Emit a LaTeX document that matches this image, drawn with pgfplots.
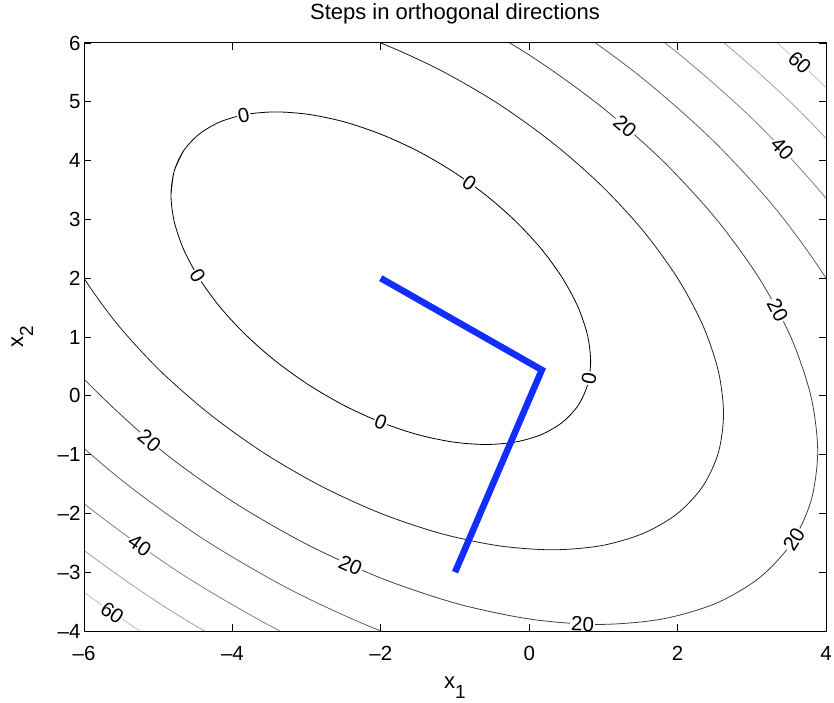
\documentclass[border=0pt]{standalone}
\usepackage{pgfplots}
\pgfplotsset{compat=1.18}
\usepackage{fontspec}
\setmainfont{Liberation Sans}
\definecolor{pathblue}{RGB}{18,46,255}
\newcommand{\lbl}{\fontsize{20.5}{24}\selectfont}
\begin{document}
\begin{tikzpicture}
\begin{axis}[
  scale only axis, width=742pt, height=588pt,
  xmin=-6, xmax=4, ymin=-4, ymax=6,
  xtick={-6,-4,-2,0,2,4}, xticklabels={–6,–4,–2,0,2,4},
  ytick={-4,-3,-2,-1,0,1,2,3,4,5,6}, yticklabels={–4,–3,–2,–1,0,1,2,3,4,5,6},
  tick align=inside, major tick length=7pt,
  tick style={black, line width=0.8pt},
  axis line style={black, line width=1pt},
  tick label style={font=\fontsize{20.5}{24}\selectfont},
  xticklabel style={anchor=base, yshift=-29pt},
  title={Steps in orthogonal directions},
  title style={font=\fontsize{22}{26}\selectfont, at={(rel axis cs:0.5,1.0306)}, anchor=base},
  xlabel={x\raisebox{-10pt}{\fontsize{19}{22}\selectfont 1}},
  ylabel={x\raisebox{-10pt}{\fontsize{19}{22}\selectfont 2}},
  xlabel style={font=\fontsize{22}{26}\selectfont, at={(rel axis cs:0.5,-0.0986)}, anchor=base},
  ylabel style={font=\fontsize{22}{26}\selectfont, at={(rel axis cs:-0.0822,0.5)}, anchor=base},
  axis on top,
]
% level 60
\addplot[smooth, draw=black!25, line width=0.8pt] coordinates {
(-11.381,6.690) (-11.238,8.030) (-10.815,9.186) (-10.124,10.124) (-9.186,10.815) (-8.030,11.238) (-6.690,11.381) (-5.208,11.238) (-3.629,10.815) (-2,10.124) (-0.371,9.186) (1.208,8.030) (2.690,6.690) (4.030,5.208) (5.186,3.629) (6.124,2) (6.815,0.371) (7.238,-1.208) (7.381,-2.690) (7.238,-4.030) (6.815,-5.186) (6.124,-6.124) (5.186,-6.815) (4.030,-7.238) (2.690,-7.381) (1.208,-7.238) (-0.371,-6.815) (-2,-6.124) (-3.629,-5.186) (-5.208,-4.030) (-6.690,-2.690) (-8.030,-1.208) (-9.186,0.371) (-10.124,2) (-10.815,3.629) (-11.238,5.208) (-11.381,6.690)};
% level 50
\addplot[smooth, draw=black!37.5, line width=0.8pt] coordinates {
(-10.641,6.320) (-10.510,7.554) (-10.120,8.619) (-9.483,9.483) (-8.619,10.120) (-7.554,10.510) (-6.320,10.641) (-4.955,10.510) (-3.500,10.120) (-2,9.483) (-0.500,8.619) (0.955,7.554) (2.320,6.320) (3.554,4.955) (4.619,3.500) (5.483,2) (6.120,0.500) (6.510,-0.955) (6.641,-2.320) (6.510,-3.554) (6.120,-4.619) (5.483,-5.483) (4.619,-6.120) (3.554,-6.510) (2.320,-6.641) (0.955,-6.510) (-0.500,-6.120) (-2,-5.483) (-3.500,-4.619) (-4.955,-3.554) (-6.320,-2.320) (-7.554,-0.955) (-8.619,0.500) (-9.483,2) (-10.120,3.500) (-10.510,4.955) (-10.641,6.320)};
% level 40
\addplot[smooth, draw=black!50, line width=0.8pt] coordinates {
(-9.832,5.916) (-9.713,7.034) (-9.359,7.999) (-8.782,8.782) (-7.999,9.359) (-7.034,9.713) (-5.916,9.832) (-4.679,9.713) (-3.360,9.359) (-2,8.782) (-0.640,7.999) (0.679,7.034) (1.916,5.916) (3.034,4.679) (3.999,3.360) (4.782,2) (5.359,0.640) (5.713,-0.679) (5.832,-1.916) (5.713,-3.034) (5.359,-3.999) (4.782,-4.782) (3.999,-5.359) (3.034,-5.713) (1.916,-5.832) (0.679,-5.713) (-0.640,-5.359) (-2,-4.782) (-3.360,-3.999) (-4.679,-3.034) (-5.916,-1.916) (-7.034,-0.679) (-7.999,0.640) (-8.782,2) (-9.359,3.360) (-9.713,4.679) (-9.832,5.916)};
% level 30
\addplot[smooth, draw=black!62.5, line width=0.8pt] coordinates {
(-8.928,5.464) (-8.823,6.453) (-8.510,7.307) (-8,8) (-7.307,8.510) (-6.453,8.823) (-5.464,8.928) (-4.370,8.823) (-3.203,8.510) (-2,8) (-0.797,7.307) (0.370,6.453) (1.464,5.464) (2.453,4.370) (3.307,3.203) (4,2) (4.510,0.797) (4.823,-0.370) (4.928,-1.464) (4.823,-2.453) (4.510,-3.307) (4,-4) (3.307,-4.510) (2.453,-4.823) (1.464,-4.928) (0.370,-4.823) (-0.797,-4.510) (-2,-4) (-3.203,-3.307) (-4.370,-2.453) (-5.464,-1.464) (-6.453,-0.370) (-7.307,0.797) (-8,2) (-8.510,3.203) (-8.823,4.370) (-8.928,5.464)};
% level 20
\addplot[smooth, draw=black!75, line width=0.8pt] coordinates {
(-7.888,4.944) (-7.798,5.785) (-7.533,6.510) (-7.099,7.099) (-6.510,7.533) (-5.785,7.798) (-4.944,7.888) (-4.014,7.798) (-3.022,7.533) (-2,7.099) (-0.978,6.510) (0.014,5.785) (0.944,4.944) (1.785,4.014) (2.510,3.022) (3.099,2) (3.533,0.978) (3.798,-0.014) (3.888,-0.944) (3.798,-1.785) (3.533,-2.510) (3.099,-3.099) (2.510,-3.533) (1.785,-3.798) (0.944,-3.888) (0.014,-3.798) (-0.978,-3.533) (-2,-3.099) (-3.022,-2.510) (-4.014,-1.785) (-4.944,-0.944) (-5.785,0.014) (-6.510,0.978) (-7.099,2) (-7.533,3.022) (-7.798,4.014) (-7.888,4.944)};
% level 10
\addplot[smooth, draw=black!87.5, line width=0.8pt] coordinates {
(-6.619,4.309) (-6.549,4.969) (-6.340,5.538) (-6,6) (-5.538,6.340) (-4.969,6.549) (-4.309,6.619) (-3.580,6.549) (-2.802,6.340) (-2,6) (-1.198,5.538) (-0.420,4.969) (0.309,4.309) (0.969,3.580) (1.538,2.802) (2,2) (2.340,1.198) (2.549,0.420) (2.619,-0.309) (2.549,-0.969) (2.340,-1.538) (2,-2) (1.538,-2.340) (0.969,-2.549) (0.309,-2.619) (-0.420,-2.549) (-1.198,-2.340) (-2,-2) (-2.802,-1.538) (-3.580,-0.969) (-4.309,-0.309) (-4.969,0.420) (-5.538,1.198) (-6,2) (-6.340,2.802) (-6.549,3.580) (-6.619,4.309)};
% level 0
\addplot[smooth, draw=black, line width=0.8pt] coordinates {
(-4.828,3.414) (-4.785,3.818) (-4.658,4.167) (-4.449,4.449) (-4.167,4.658) (-3.818,4.785) (-3.414,4.828) (-2.967,4.785) (-2.491,4.658) (-2,4.449) (-1.509,4.167) (-1.033,3.818) (-0.586,3.414) (-0.182,2.967) (0.167,2.491) (0.449,2) (0.658,1.509) (0.785,1.033) (0.828,0.586) (0.785,0.182) (0.658,-0.167) (0.449,-0.449) (0.167,-0.658) (-0.182,-0.785) (-0.586,-0.828) (-1.033,-0.785) (-1.509,-0.658) (-2,-0.449) (-2.491,-0.167) (-2.967,0.182) (-3.414,0.586) (-3.818,1.033) (-4.167,1.509) (-4.449,2) (-4.658,2.491) (-4.785,2.967) (-4.828,3.414) (-4.785,3.818) (-4.658,4.167)};
% contour labels
\begin{scope}[every node/.style={fill=white, inner sep=1pt, font=\lbl}]
\node[rotate=11] at (axis cs:-3.85,4.775) {0};
\node[rotate=-35.6] at (axis cs:-0.805,3.622) {0};
\node[rotate=-58.6] at (axis cs:-4.47,2.04) {0};
\node[rotate=-22] at (axis cs:-2.0,-0.45) {0};
\node[rotate=79] at (axis cs:0.807,0.298) {0};
\node[rotate=-40.7] at (axis cs:1.292,4.581) {20};
\node[rotate=-62.1] at (axis cs:3.349,1.456) {20};
\node[rotate=57.9] at (axis cs:3.567,-2.443) {20};
\node[rotate=-2.2] at (axis cs:0.719,-3.882) {20};
\node[rotate=-24] at (axis cs:-2.41,-2.881) {20};
\node[rotate=-39.5] at (axis cs:-5.12,-0.764) {20};
\node[rotate=-46.5] at (axis cs:3.41,4.198) {40};
\node[rotate=-35] at (axis cs:-5.25,-2.55) {40};
\node[rotate=-42.4] at (axis cs:3.6455,5.6654) {60};
\node[rotate=-34.2] at (axis cs:-5.62,-3.69) {60};
\end{scope}
% path
\addplot[draw=pathblue, line width=6.5pt] coordinates {(-2,2) (0.17,0.44) (-1,-3)};
\coordinate (ll) at (rel axis cs:0,0);
\coordinate (ur) at (rel axis cs:1,1);
\end{axis}
\pgfresetboundingbox
\path ([xshift=-84pt,yshift=-71pt]ll) rectangle ([xshift=8pt,yshift=43pt]ur);
\end{tikzpicture}
\end{document}
